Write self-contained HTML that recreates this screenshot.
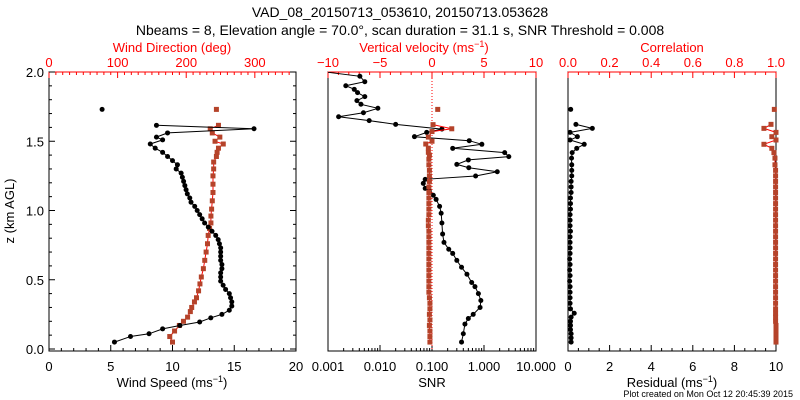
<!DOCTYPE html>
<html><head><meta charset="utf-8"><style>
html,body{margin:0;padding:0;background:#fff;}
svg{display:block;font-family:"Liberation Sans",sans-serif;}
</style></head><body>
<svg id="chart" width="800" height="400" xmlns="http://www.w3.org/2000/svg"></svg>
<script>
// ---- data ----
const spdZ=[0.05,0.09,0.11,0.145,0.17,0.195,0.225,0.25,0.28,0.31,0.34,0.37,0.40,0.43,0.46,0.49,0.52,0.55,0.58,0.61,0.64,0.67,0.70,0.73,0.76,0.79,0.82,0.85,0.88,0.91,0.94,0.97,1.00,1.03,1.06,1.09,1.12,1.15,1.18,1.21,1.24,1.27,1.30,1.33,1.36,1.39,1.42,1.45,1.48,1.51,1.53,1.56,1.59,1.615];
const spdVals=[5.3,6.6,8.1,9.2,10.6,12.2,13.1,14.0,14.6,14.8,14.8,14.7,14.6,14.3,14.1,13.9,13.9,13.9,14.0,14.0,13.9,13.9,13.9,13.9,13.8,13.7,13.5,13.2,12.9,12.6,12.4,12.2,12.0,11.8,11.5,11.4,11.2,11.1,11.0,10.9,10.8,10.7,10.3,10.4,10.0,9.6,9.2,8.6,8.2,9.2,8.7,9.6,16.6,8.7];
const spdIsoZ=[1.73], spdIsoVals=[4.3];
const dirZ=[0.05,0.09,0.13,0.17,0.2,0.23,0.27,0.3,0.34,0.37,0.42,0.47,0.52,0.58,0.64,0.7,0.76,0.82,0.87,0.91,0.96,1.01,1.07,1.13,1.19,1.25,1.3,1.35,1.39,1.42,1.45,1.48,1.5,1.53,1.56,1.59,1.615];
const dirVals=[180,176,183,190,196,202,206,208,212,215,218,220,222,225,227,229,231,232,234,236,236,237,238,239,239,239,240,240,244,245,247,254,242,249,238,235,247];
const dirIsoZ=[1.73], dirIsoVals=[244];
const snrZ=[0.05,0.11,0.18,0.22,0.25,0.30,0.35,0.40,0.45,0.48,0.54,0.59,0.64,0.69,0.72,0.77,0.83,0.91,0.98,1.03,1.08,1.11,1.14,1.16,1.196,1.225,1.249,1.28,1.309,1.333,1.365,1.389,1.418,1.449,1.478,1.504,1.533,1.564,1.588,1.622,1.649,1.677,1.706,1.738,1.767,1.793,1.822,1.851,1.875,1.901,1.93,1.969,2.0];
const snrVals=[0.37,0.40,0.43,0.50,0.62,0.84,0.87,0.78,0.67,0.58,0.47,0.37,0.30,0.25,0.21,0.17,0.16,0.155,0.15,0.14,0.12,0.106,0.089,0.074,0.068,0.074,0.69,1.8,0.51,0.30,0.50,3.0,2.5,0.25,0.91,0.52,0.046,0.079,0.155,0.020,0.0062,0.0016,0.0048,0.0091,0.0043,0.0036,0.0051,0.0037,0.0032,0.0022,0.0051,0.0041,0.0009];
const wZ=[0.05,0.09,0.13,0.17,0.21,0.25,0.29,0.33,0.37,0.41,0.45,0.49,0.53,0.57,0.61,0.65,0.69,0.73,0.77,0.81,0.85,0.89,0.93,0.97,1.01,1.05,1.09,1.13,1.17,1.21,1.25,1.29,1.33,1.37,1.4,1.42,1.45,1.48,1.5,1.53,1.57,1.59,1.62];
const wVals=[-0.2,-0.2,-0.2,-0.25,-0.2,-0.25,-0.2,-0.2,-0.25,-0.3,-0.3,-0.3,-0.3,-0.3,-0.3,-0.3,-0.3,-0.3,-0.3,-0.3,-0.3,-0.35,-0.35,-0.3,-0.3,-0.3,-0.3,-0.3,-0.3,-0.25,-0.25,-0.25,-0.3,-0.3,-0.25,-0.35,-0.35,-0.6,0.0,-0.35,0.0,1.9,0.1];
const wIsoZ=[1.73], wIsoVals=[0.55];
const resZ=[0.05,0.08,0.11,0.14,0.17,0.2,0.23,0.258,0.29,0.33,0.37,0.41,0.45,0.49,0.53,0.57,0.61,0.65,0.69,0.73,0.77,0.81,0.85,0.89,0.93,0.97,1.01,1.05,1.09,1.13,1.17,1.21,1.25,1.29,1.33,1.378,1.418,1.449,1.478,1.509,1.533,1.564,1.593,1.622];
const resVals=[0.15,0.15,0.15,0.12,0.12,0.12,0.15,0.3,0.12,0.1,0.1,0.1,0.1,0.08,0.1,0.08,0.1,0.08,0.1,0.1,0.1,0.1,0.12,0.1,0.1,0.1,0.12,0.12,0.12,0.15,0.15,0.15,0.18,0.18,0.18,0.17,0.2,0.42,0.78,0.1,0.45,0.1,1.17,0.38];
const resIsoZ=[1.73], resIsoVals=[0.13];
const corZ=resZ;
const corVals=[1.0,1.0,1.0,1.0,1.0,0.998,0.998,0.998,0.998,0.998,0.998,0.998,0.998,0.998,0.998,0.998,0.998,0.998,0.998,0.998,0.998,0.998,0.998,0.998,0.998,0.998,0.998,0.998,0.998,0.998,0.998,0.998,0.998,0.998,0.995,0.995,0.99,0.98,0.942,1.0,0.98,1.0,0.942,0.976];
const corIsoZ=[1.73], corIsoVals=[0.992];
const zTicks=["0.0","0.5","1.0","1.5","2.0"];
const spdTicks=["0","5","10","15","20"];
const dirTicks=["0","100","200","300"];
const wTicks=["\u221210","\u22125","0","5","10"];
const snrTicks=["0.001","0.010","0.100","1.000","10.000"];
const resTicks=["0","2","4","6","8","10"];
const corTicks=["0.0","0.2","0.4","0.6","0.8","1.0"];

const NS="http://www.w3.org/2000/svg";
const svg=document.getElementById('chart');
const RED="#ff0000", BR="#b5432a";
const Y0=349, YS=138.5, TOP=72, BOT=351;
const yz=z=>Y0-z*YS;
function el(t,a,p){const e=document.createElementNS(NS,t);for(const k in a)e.setAttribute(k,a[k]);(p||svg).appendChild(e);return e;}
function txt(s,x,y,o,name){const e=el('text',Object.assign({x:x,y:y,'font-size':13,'text-anchor':'middle',fill:'#000'},o||{}));e.textContent=s;


return e;}
const P1={x0:49,x1:296}, P2={x0:328,x1:536}, P3={x0:568,x1:776};
const sx=v=>P1.x0+v/20*(P1.x1-P1.x0);
const dx=v=>P1.x0+v/360*(P1.x1-P1.x0);
const wx=v=>P2.x0+(v+10)/20*(P2.x1-P2.x0);
const nx=v=>P2.x0+(Math.log10(v)+3)/4*(P2.x1-P2.x0);
const rx=v=>P3.x0+v/10*(P3.x1-P3.x0);
const cx=v=>P3.x0+v*(P3.x1-P3.x0);

function frame(P,name){const r=el('rect',{x:P.x0,y:TOP,width:P.x1-P.x0,height:BOT-TOP,fill:'none',stroke:'#000','stroke-width':1});


el('line',{x1:P.x0,y1:TOP,x2:P.x1,y2:TOP,stroke:RED,'stroke-width':1});}
frame(P1,'panel-wind-frame');frame(P2,'panel-snr-frame');frame(P3,'panel-residual-frame');
function tick(x1,y1,x2,y2,c,g){el('line',{x1:x1,y1:y1,x2:x2,y2:y2,stroke:c,'stroke-width':1},g);}
// bottom and top axes
function linTicks(fx,min,max,maj,minr,yBase,dir,c,labels,ly,name){
 const g=el('g',{});
 for(let v=min;v<=max+1e-9;v+=minr){const x=fx(v);const isM=Math.abs(v/maj-Math.round(v/maj))<1e-6;tick(x,yBase,x,yBase+dir*(isM?6:3),c,g);}
 labels.forEach((l,i)=>{const t=txt(l,fx(min+i*maj),ly,{fill:c},name+'-label');g.appendChild(t);});}
linTicks(sx,0,20,5,1,BOT,-1,'#000',spdTicks,371,'x-axis-wind-speed');
linTicks(dx,0,350,100,10,TOP,1,RED,dirTicks,67,'x-axis-wind-direction');
linTicks(wx,-10,10,5,1,TOP,1,RED,wTicks,67,'x-axis-vertical-velocity');
linTicks(rx,0,10,2,0.5,BOT,-1,'#000',resTicks,371,'x-axis-residual');
linTicks(cx,0,1,0.2,0.05,TOP,1,RED,corTicks,67,'x-axis-correlation');
// SNR log axis
(function(){const g=el('g',{});
 for(let d=-3;d<=1;d++){for(let m=1;m<=9;m++){const v=m*Math.pow(10,d);if(v>10.0001)break;const x=nx(v);tick(x,BOT,x,BOT-(m==1?6:3),'#000',g);}}
 snrTicks.forEach(l=>{g.appendChild(txt(l,nx(parseFloat(l)),371,{},'x-axis-snr-label'));});})();
// y axis panel1
(function(){const g=el('g',{});
 for(let i=0;i<=20;i++){const z=i/10;const y=yz(z);const L=(i%5==0)?6:3;tick(P1.x0,y,P1.x0+L,y,'#000',g);tick(P1.x1,y,P1.x1-L,y,'#000',g);}
 zTicks.forEach(l=>g.appendChild(txt(l,44,yz(parseFloat(l))+5,{'text-anchor':'end'},'y-axis-label')));})();
// dotted zero line
const zl=el('line',{x1:wx(0),y1:TOP,x2:wx(0),y2:BOT,stroke:RED,'stroke-width':1,'stroke-dasharray':'1,2'});


// series
function series(zs,vs,fx,color,lineColor,shape,name){
 const g=el('g',{});
 if(lineColor){const pts=zs.map((z,i)=>fx(vs[i]).toFixed(1)+','+yz(z).toFixed(1)).join(' ');
  el('polyline',{points:pts,fill:'none',stroke:lineColor,'stroke-width':1},g);}
 zs.forEach((z,i)=>{const x=fx(vs[i]),y=yz(z);let m;
  if(shape=='c')m=el('circle',{cx:x,cy:y,r:2.5,fill:color},g);
  else m=el('rect',{x:x-2.5,y:y-2.5,width:5,height:5,fill:color},g);
  
  });}
const clip=(id,P)=>{const c=el('clipPath',{id:id});el('rect',{x:P.x0,y:TOP,width:P.x1-P.x0,height:BOT-TOP},c);};
clip('c2',P2);
series(dirZ,dirVals,dx,BR,RED,'s','wind-direction-series');
series(dirIsoZ,dirIsoVals,dx,BR,null,'s','wind-direction-isolated');
series(spdZ,spdVals,sx,'#000','#000','c','wind-speed-series');
series(spdIsoZ,spdIsoVals,sx,'#000',null,'c','wind-speed-isolated');
const g2=el('g',{'clip-path':'url(#c2)'});


const oldSvg=svg;
series(snrZ,snrVals,nx,'#000','#000','c','snr-series');
svg.lastChild && g2.appendChild(svg.lastChild);
series(wZ,wVals,wx,BR,RED,'s','vertical-velocity-series');
series(wIsoZ,wIsoVals,wx,BR,null,'s','vertical-velocity-isolated');
series(corZ,corVals,cx,BR,RED,'s','correlation-series');
series(corIsoZ,corIsoVals,cx,BR,null,'s','correlation-isolated');
series(resZ,resVals,rx,'#000','#000','c','residual-series');
series(resIsoZ,resIsoVals,rx,'#000',null,'c','residual-isolated');
// titles
txt('VAD_08_20150713_053610, 20150713.053628',400,17,{'font-size':14},'chart-title');
txt('Nbeams = 8, Elevation angle = 70.0\u00b0, scan duration = 31.1 s, SNR Threshold = 0.008',400,35,{'font-size':14},'chart-subtitle');
txt('Wind Direction (deg)',172,52,{fill:RED},'wind-direction-axis-title');
const vt=txt('Vertical velocity (ms',424,52,{fill:RED},'vertical-velocity-axis-title');
const ts=el('tspan',{dy:-5,'font-size':9},vt);ts.textContent='\u22121';const ts2=el('tspan',{dy:5},vt);ts2.textContent=')';
txt('Correlation',672,52,{fill:RED},'correlation-axis-title');
const ws=txt('Wind Speed (ms',172,387,{},'wind-speed-axis-title');
let a=el('tspan',{dy:-5,'font-size':9},ws);a.textContent='\u22121';a=el('tspan',{dy:5},ws);a.textContent=')';
txt('SNR',432,387,{},'snr-axis-title');
const rs=txt('Residual (ms',672,387,{},'residual-axis-title');
a=el('tspan',{dy:-5,'font-size':9},rs);a.textContent='\u22121';a=el('tspan',{dy:5},rs);a.textContent=')';
txt('z (km AGL)',0,0,{transform:'translate(14,211) rotate(-90)'},'y-axis-title');
txt('Plot created on Mon Oct 12 20:45:39 2015',793,397,{'font-size':9,'text-anchor':'end'},'plot-credit');
</script>
</body></html>
